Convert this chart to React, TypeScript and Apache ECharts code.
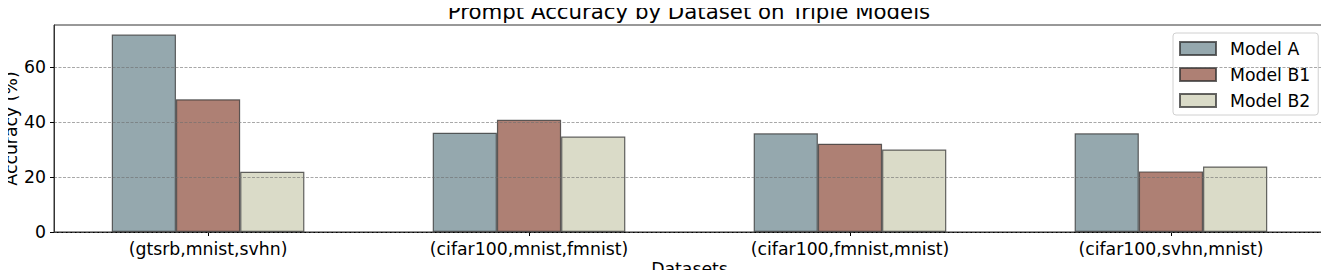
import React, { useEffect, useRef } from "react";
import * as echarts from "echarts";

const categories = [
  "(gtsrb,mnist,svhn)",
  "(cifar100,mnist,fmnist)",
  "(cifar100,fmnist,mnist)",
  "(cifar100,svhn,mnist)",
];
const modelA = [72.0, 36.2, 36.0, 36.0];
const modelB1 = [48.4, 40.9, 32.2, 22.1];
const modelB2 = [22.0, 34.8, 30.1, 23.9];
const seriesNames = ["Model A", "Model B1", "Model B2"];
const colors = ["#95a8ae", "#ae8074", "#dadbc8"];
const xTickPositions = [0, 1, 2, 3];
const yTicks = [0, 20, 40, 60];

const FONT = "'DejaVu Sans', 'Liberation Sans', sans-serif";
const FS = 17.3;

export default function App() {
  const ref = useRef<HTMLDivElement>(null);
  useEffect(() => {
    if (!ref.current) return;
    const chart = echarts.init(ref.current, null, { renderer: "svg" });
    const mk = (name: string, vals: number[], color: string) => ({
      name,
      type: "bar",
      data: vals.map((v, i) => [xTickPositions[i], v]),
      barWidth: 64.2,
      barGap: "0%",
      z: 2,
      itemStyle: {
        color,
        borderColor: "rgba(50,50,50,0.75)",
        borderWidth: 1.2,
      },
    });
    chart.setOption({
      animation: false,
      textStyle: { fontFamily: FONT },
      title: {
        text: "Prompt Accuracy by Dataset on Triple Models",
        left: 689,
        textAlign: "center",
        top: 1,
        padding: 0,
        textStyle: { fontFamily: FONT, fontSize: 21.3, fontWeight: "normal", color: "#000", lineHeight: 21 },
      },
      legend: {
        orient: "vertical",
        left: 1173,
        top: 33,
        padding: [7, 8, 6, 6],
        itemGap: 9,
        itemWidth: 36,
        itemHeight: 13,
        borderColor: "#d0d0d0",
        borderWidth: 1,
        borderRadius: 3,
        backgroundColor: "rgba(255,255,255,0.8)",
        textStyle: { fontFamily: FONT, fontSize: FS, color: "#000", padding: [0, 0, 0, 9] },
        data: seriesNames.map((n) => ({ name: n, icon: "rect" })),
      },
      grid: {
        left: 54,
        right: 4,
        top: 25,
        bottom: 46,
        show: true,
        borderColor: "#333",
        borderWidth: 1,
        containLabel: false,
        outerBoundsMode: "none",
      },
      xAxis: {
        type: "value",
        min: -0.48,
        max: 3.48,
        name: "Datasets",
        nameLocation: "middle",
        nameGap: 28,
        nameMoveOverlap: false,
        nameTextStyle: { fontFamily: FONT, fontSize: FS, color: "#000" },
        axisLine: { show: true, onZero: false, lineStyle: { color: "#000", width: 1 } },
        axisTick: { show: true, customValues: xTickPositions, length: 4, lineStyle: { color: "#000" } },
        axisLabel: {
          customValues: xTickPositions,
          formatter: (v: number) => categories[Math.round(v)] ?? "",
          fontFamily: FONT,
          fontSize: FS,
          color: "#000",
          margin: 8,
        },
        splitLine: { show: false },
      },
      yAxis: {
        type: "value",
        min: 0,
        max: 75.5,
        z: 5,
        name: "Accuracy (%)",
        nameLocation: "middle",
        nameGap: 35,
        nameMoveOverlap: false,
        nameTextStyle: { fontFamily: FONT, fontSize: FS, color: "#000" },
        axisLine: { show: true, onZero: false, lineStyle: { color: "#333", width: 1 } },
        axisTick: { show: true, customValues: yTicks, length: 4, lineStyle: { color: "#000" } },
        axisLabel: {
          customValues: yTicks,
          fontFamily: FONT,
          fontSize: FS,
          color: "#000",
          margin: 8,
        },
        splitLine: {
          show: true,
          lineStyle: { color: "rgba(110,110,110,0.6)", type: [3, 1.5], width: 1 },
        },
        interval: 20,
      },
      series: [
        mk(seriesNames[0], modelA, colors[0]),
        mk(seriesNames[1], modelB1, colors[1]),
        mk(seriesNames[2], modelB2, colors[2]),
      ],
    });
    return () => chart.dispose();
  }, []);
  return <div ref={ref} style={{ width: 1329, height: 278, margin: -8 }} />;
}
